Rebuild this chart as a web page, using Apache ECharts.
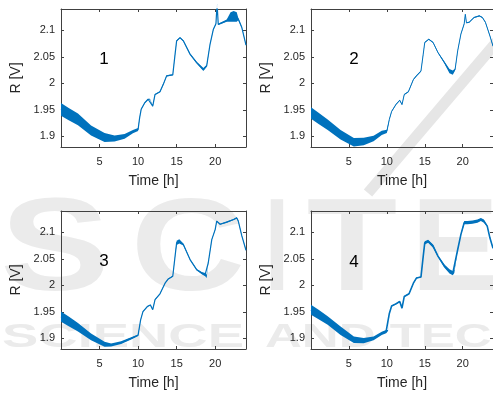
<!DOCTYPE html>
<html>
<head>
<meta charset="utf-8">
<script src="https://cdn.jsdelivr.net/npm/echarts@6/dist/echarts.min.js"></script>
<style>
  html, body { margin: 0; padding: 0; background: #fff; }
  #main { width: 493px; height: 394px; }
</style>
</head>
<body>
<div id="main"></div>
<script>
// tick positions (MATLAB style, no label at the axis ends)
const tickX = [5, 10, 15, 20];
const tickY = [1.9, 1.95, 2, 2.05, 2.1];
const panelLabels = ['1', '2', '3', '4'];

// panel 1 : time [h], R [V], half width of the noisy band [V]
const t1 = [0, 1, 2.2, 3.9, 5.65, 6.95, 8.25, 9.33, 10.0, 10.2, 10.4, 10.85, 11.3, 11.54, 11.9, 12.2, 12.84, 13.27, 13.7, 14.5, 14.8, 15.0, 15.44, 15.87, 16.74, 17.6, 18.47, 18.9, 19.34, 19.77, 20.1, 20.25, 20.4, 21.5, 22.0, 22.4, 22.8, 23.0, 23.46, 24];
const r1 = [1.951, 1.942, 1.932, 1.911, 1.898, 1.896, 1.900, 1.909, 1.913, 1.935, 1.951, 1.963, 1.970, 1.970, 1.957, 1.979, 1.984, 1.998, 2.014, 2.016, 2.055, 2.080, 2.086, 2.080, 2.055, 2.039, 2.026, 2.033, 2.074, 2.102, 2.112, 2.150, 2.111, 2.118, 2.125, 2.126, 2.125, 2.121, 2.105, 2.072];
const n1 = [0.012, 0.0115, 0.011, 0.0095, 0.0085, 0.0055, 0.0045, 0.003, 0.003, 0.001, 0.001, 0.001, 0.001, 0.001, 0.001, 0.001, 0.001, 0.001, 0.001, 0.001, 0.001, 0.001, 0.001, 0.001, 0.001, 0.0015, 0.003, 0.002, 0.001, 0.001, 0.001, 0.001, 0.001, 0.002, 0.009, 0.010, 0.009, 0.002, 0.001, 0.001];

// panel 2
const t2 = [0, 1, 2.2, 3.9, 5.65, 6.95, 8.25, 9.33, 10.0, 10.33, 10.63, 11.2, 11.7, 12.0, 12.3, 12.84, 13.5, 13.9, 14.5, 14.8, 15.0, 15.53, 16.1, 16.74, 17.6, 18.26, 18.7, 19.0, 19.34, 19.77, 20.2, 20.35, 20.5, 20.86, 21.5, 22.2, 22.6, 23.0, 23.6, 24];
const r2 = [1.944, 1.934, 1.922, 1.903, 1.889, 1.8905, 1.896, 1.9065, 1.9095, 1.932, 1.947, 1.960, 1.968, 1.960, 1.979, 1.984, 2.007, 2.014, 2.023, 2.055, 2.077, 2.083, 2.077, 2.058, 2.039, 2.023, 2.020, 2.026, 2.061, 2.093, 2.112, 2.130, 2.114, 2.115, 2.124, 2.127, 2.124, 2.115, 2.089, 2.070];
const n2 = [0.011, 0.0105, 0.010, 0.009, 0.008, 0.007, 0.005, 0.004, 0.003, 0.001, 0.001, 0.001, 0.001, 0.001, 0.001, 0.001, 0.001, 0.001, 0.001, 0.001, 0.001, 0.001, 0.001, 0.001, 0.002, 0.004, 0.004, 0.002, 0.001, 0.001, 0.001, 0.001, 0.001, 0.001, 0.001, 0.001, 0.001, 0.001, 0.001, 0.001];

// panel 3
const t3 = [0, 1, 2.2, 3.9, 5.65, 6.5, 7.8, 9.1, 10.0, 10.33, 10.63, 11.2, 11.6, 11.9, 12.2, 12.84, 13.5, 13.92, 14.5, 14.8, 15.0, 15.35, 15.87, 16.74, 17.6, 18.26, 18.7, 18.9, 19.1, 19.56, 20.0, 20.2, 20.64, 21.5, 22.4, 22.8, 23.0, 23.46, 24];
const r3 = [1.941, 1.932, 1.921, 1.903, 1.889, 1.8875, 1.892, 1.900, 1.906, 1.935, 1.9505, 1.960, 1.963, 1.954, 1.973, 1.984, 2.004, 2.012, 2.017, 2.055, 2.080, 2.083, 2.077, 2.0485, 2.0295, 2.023, 2.020, 2.017, 2.042, 2.086, 2.105, 2.121, 2.115, 2.119, 2.124, 2.127, 2.121, 2.093, 2.066];
const n3 = [0.0095, 0.009, 0.008, 0.0063, 0.0047, 0.003, 0.0025, 0.002, 0.0015, 0.0008, 0.0008, 0.0008, 0.0008, 0.0008, 0.0008, 0.0008, 0.0008, 0.0008, 0.0008, 0.001, 0.004, 0.004, 0.002, 0.001, 0.001, 0.002, 0.003, 0.003, 0.0008, 0.0008, 0.001, 0.001, 0.001, 0.001, 0.001, 0.001, 0.001, 0.001, 0.001];

// panel 4
const t4 = [0, 1, 2.2, 3.9, 5.65, 6.95, 8.25, 9.33, 9.9, 10.16, 10.33, 10.63, 11.2, 11.7, 12.0, 12.3, 12.93, 13.5, 13.9, 14.5, 14.8, 15.0, 15.44, 16.1, 16.74, 17.6, 18.26, 18.7, 18.9, 19.34, 19.77, 20.2, 20.64, 21.3, 21.95, 22.4, 22.8, 23.24, 23.6, 24];
const r4 = [1.954, 1.945, 1.9335, 1.9146, 1.8975, 1.8957, 1.900, 1.9095, 1.9127, 1.915, 1.947, 1.961, 1.965, 1.9695, 1.957, 1.979, 1.984, 2.004, 2.0136, 2.0155, 2.055, 2.080, 2.083, 2.0737, 2.055, 2.036, 2.0264, 2.023, 2.026, 2.067, 2.096, 2.118, 2.118, 2.119, 2.121, 2.124, 2.121, 2.1115, 2.089, 2.070];
const n4 = [0.0095, 0.009, 0.008, 0.008, 0.006, 0.005, 0.0035, 0.003, 0.003, 0.001, 0.001, 0.001, 0.001, 0.001, 0.001, 0.001, 0.001, 0.001, 0.001, 0.001, 0.001, 0.003, 0.003, 0.003, 0.001, 0.003, 0.004, 0.004, 0.003, 0.001, 0.001, 0.003, 0.003, 0.003, 0.003, 0.003, 0.003, 0.001, 0.001, 0.001];

const panels = [
  { t: t1, r: r1, n: n1, lw: 1.2 },
  { t: t2, r: r2, n: n2, lw: 1.0 },
  { t: t3, r: r3, n: n3, lw: 1.2 },
  { t: t4, r: r4, n: n4, lw: 1.6 }
];

const blue = '#0072BD';
const ink = '#262626';
const boxColor = '#404040';
const font = 'Liberation Sans';

const grids = [
  { left: 61, top: 9, width: 185, height: 138 },
  { left: 311, top: 9, width: 184, height: 138 },
  { left: 61, top: 211, width: 185, height: 138 },
  { left: 311, top: 211, width: 184, height: 138 }
];

let xAxes = [];
let yAxes = [];
let series = [];

grids.forEach(function (g, i) {
  const line = { show: true, onZero: false, lineStyle: { color: boxColor, width: 1 } };
  const tick = { show: true, inside: true, length: 3, customValues: tickX, lineStyle: { color: boxColor } };
  xAxes.push({
    type: 'value', gridIndex: i, position: 'bottom', min: 0, max: 24,
    axisLine: line, axisTick: tick, splitLine: { show: false },
    axisLabel: { customValues: tickX, color: ink, fontSize: 11, fontFamily: font, margin: 9 },
    name: 'Time [h]', nameLocation: 'middle', nameGap: 27,
    nameTextStyle: { color: ink, fontSize: 14, fontFamily: font }
  });
  xAxes.push({
    type: 'value', gridIndex: i, position: 'top', min: 0, max: 24,
    axisLine: line, axisTick: tick, splitLine: { show: false }, axisLabel: { show: false }
  });
  const ytick = { show: true, inside: true, length: 3, customValues: tickY, lineStyle: { color: boxColor } };
  yAxes.push({
    type: 'value', gridIndex: i, position: 'left', min: 1.88, max: 2.14,
    axisLine: line, axisTick: ytick, splitLine: { show: false },
    axisLabel: { customValues: tickY, color: ink, fontSize: 11, fontFamily: font, margin: 6 },
    name: 'R [V]', nameLocation: 'middle', nameGap: 38,
    nameTextStyle: { color: ink, fontSize: 14, fontFamily: font }
  });
  yAxes.push({
    type: 'value', gridIndex: i, position: 'right', min: 1.88, max: 2.14,
    axisLine: line, axisTick: ytick, splitLine: { show: false }, axisLabel: { show: false }
  });

  const p = panels[i];
  // noisy band: polygon between r-n and r+n, placed through the axes
  series.push({
    type: 'custom', xAxisIndex: 2 * i, yAxisIndex: 2 * i, silent: true,
    data: [[p.t[0], p.r[0]]],
    renderItem: function (params, api) {
      const up = p.t.map((x, k) => api.coord([x, p.r[k] + p.n[k]]));
      const dn = p.t.map((x, k) => api.coord([x, p.r[k] - p.n[k]])).reverse();
      return { type: 'polygon', shape: { points: up.concat(dn) }, style: { fill: blue } };
    }
  });
  series.push({
    type: 'line', xAxisIndex: 2 * i, yAxisIndex: 2 * i, showSymbol: false, silent: true,
    data: p.t.map((x, k) => [x, p.r[k]]),
    lineStyle: { color: blue, width: p.lw }
  });
});

// faint publisher watermark behind the lower panels
const wm = '#ebebeb';
const watermark = [
  { ch: 'S', x: 55, sx: 1.25 },
  { ch: 'C', x: 188, sx: 1.2 },
  { ch: 'I', x: 277, sx: 0.65 },
  { ch: 'T', x: 352, sx: 1.12 },
  { ch: 'E', x: 455, sx: 1.0 }
].map(function (l) {
  return {
    type: 'text', x: l.x, y: 254, scaleX: l.sx, z: -5, silent: true,
    style: { text: l.ch, textAlign: 'center', textVerticalAlign: 'middle', font: 'bold 132px "Liberation Sans"', fill: wm }
  };
});
watermark.push({
  type: 'text', x: 123, y: 338, scaleX: 1.6, z: -5, silent: true,
  style: { text: 'SCIENCE', textAlign: 'center', textVerticalAlign: 'middle', font: 'bold 34px "Liberation Sans"', fill: wm }
});
watermark.push({
  type: 'text', x: 265, y: 338, scaleX: 1.5, z: -5, silent: true,
  style: { text: 'AND TECHNOLOGY', textAlign: 'left', textVerticalAlign: 'middle', font: 'bold 34px "Liberation Sans"', fill: wm }
});
watermark.push({
  type: 'line', z: -5, silent: true,
  shape: { x1: 368, y1: 193, x2: 500, y2: 38 },
  style: { stroke: '#e6e6e6', lineWidth: 11 }
});

// panel numbers
const numberPos = [[104, 59], [354, 59], [104, 261], [354, 262]];
const numbers = numberPos.map(function (pos, i) {
  return {
    type: 'text', x: pos[0], y: pos[1], z: 10, silent: true,
    style: { text: panelLabels[i], textAlign: 'center', textVerticalAlign: 'middle', font: '17px "Liberation Sans"', fill: '#000' }
  };
});

var myChart = echarts.init(document.getElementById('main'), null, { renderer: 'canvas' });
var option = {
  animation: false,
  backgroundColor: '#fff',
  grid: grids,
  xAxis: xAxes,
  yAxis: yAxes,
  series: series,
  graphic: watermark.concat(numbers)
};
option && myChart.setOption(option);
</script>
</body>
</html>
